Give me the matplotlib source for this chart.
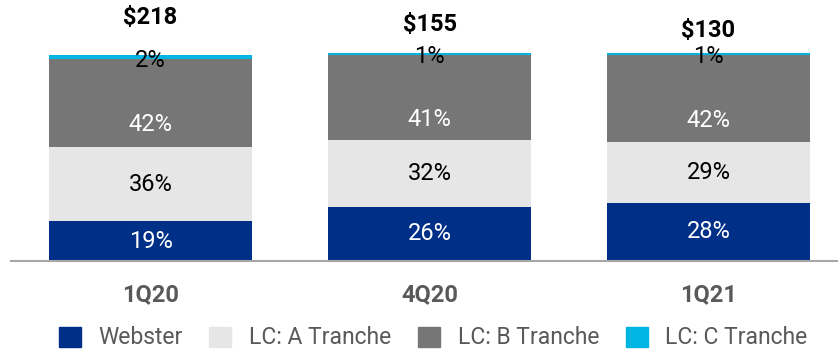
import numpy as np
import matplotlib
matplotlib.use("Agg")
import matplotlib.pyplot as plt
import matplotlib.patches as mpatches

plt.rcParams['font.family'] = ['Roboto', 'DejaVu Sans']

quarters = ["1Q20", "4Q20", "1Q21"]
totals = ["$218", "$155", "$130"]
webster = [19, 26, 28]
tranche_a = [36, 32, 29]
tranche_b = [42, 41, 42]
tranche_c = [2, 1, 1]
series_names = ["Webster", "LC: A Tranche", "LC: B Tranche", "LC: C Tranche"]
colors = ["#002F87", "#E6E6E6", "#767676", "#00B5E2"]
text_colors = ["white", "black", "white", "black"]
total_label_y = [117, 113.5, 111]

fig = plt.figure(figsize=(8.38, 3.52), dpi=100)
ax = fig.add_axes([11 / 838, 91 / 352, 827 / 838, 261 / 352])

x = np.arange(len(quarters))
data = np.array([webster, tranche_a, tranche_b, tranche_c], dtype=float)
bottom = np.zeros(len(quarters))
for i, vals in enumerate(data):
    ax.bar(x, vals, 0.727, bottom=bottom, color=colors[i])
    for j, v in enumerate(vals):
        if i == 2:
            y = bottom[j] + v * 0.25
        elif i == 3:
            y = bottom[j] - 0.5
        else:
            y = bottom[j] + v / 2
        ax.text(x[j], y, f"{int(v)}%", ha="center", va="center",
                fontsize=17, color=text_colors[i])
    bottom += vals

for j, t in enumerate(totals):
    ax.text(x[j], total_label_y[j], t, ha="center", va="center",
            fontsize=17, fontweight="bold", color="black")

ax.set_xlim(-0.5, 2.464)
ax.set_ylim(0, 125.5)
for s in ["top", "right", "left"]:
    ax.spines[s].set_visible(False)
ax.spines["bottom"].set_color("#A6A6A6")
ax.spines["bottom"].set_linewidth(1.5)
ax.set_yticks([])
ax.set_xticks(x)
ax.set_xticklabels(quarters, fontsize=17, fontweight="bold", color="#595959")
ax.tick_params(axis="x", length=0, pad=16)

handles = [mpatches.Patch(color=c) for c in colors]
fig.legend(handles, series_names, loc="center", bbox_to_anchor=(0.517, 0.04),
           ncol=4, frameon=False, fontsize=16.5, labelcolor="#595959",
           handlelength=0.96, handleheight=0.96, handletextpad=0.78,
           columnspacing=1.15, borderpad=0, borderaxespad=0)

fig.savefig("out.png", dpi=100)
